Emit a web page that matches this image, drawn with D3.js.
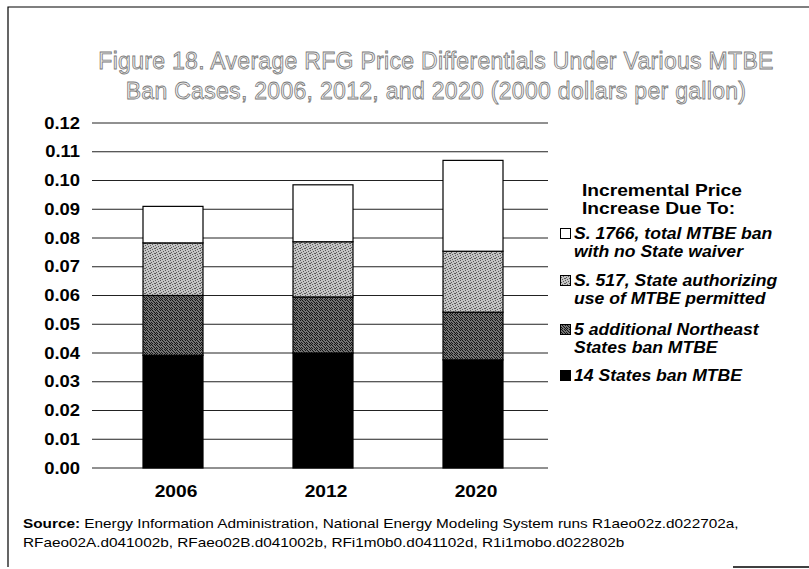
<!DOCTYPE html>
<html>
<head>
<meta charset="utf-8">
<script src="https://cdn.jsdelivr.net/npm/d3@7"></script>
<style>
  body { margin: 0; background: #fff; }
  svg { display: block; font-family: "Liberation Sans", Arial, sans-serif; }
</style>
</head>
<body>
<div id="chart"></div>
<script>
var years = ["2006", "2012", "2020"];
var seriesKeys = ["ban14", "northeast5", "s517", "s1766"];
var ban14 = [0.0392, 0.0400, 0.0376];
var northeast5 = [0.0208, 0.0195, 0.0166];
var s517 = [0.0183, 0.0192, 0.0212];
var s1766 = [0.0127, 0.0198, 0.0316];
var yTicks = [0, 0.01, 0.02, 0.03, 0.04, 0.05, 0.06, 0.07, 0.08, 0.09, 0.10, 0.11, 0.12];
var titleLines = [
  "Figure 18. Average RFG Price Differentials Under Various MTBE",
  "Ban Cases, 2006, 2012, and 2020 (2000 dollars per gallon)"
];
var legendTitle = ["Incremental Price", "Increase Due To:"];
var legendItems = [
  {key: "s1766", lines: ["S. 1766, total MTBE ban", "with no State waiver"]},
  {key: "s517", lines: ["S. 517, State authorizing", "use of MTBE permitted"]},
  {key: "northeast5", lines: ["5 additional Northeast", "States ban MTBE"]},
  {key: "ban14", lines: ["14 States ban MTBE"]}
];
var sourceLines = [
  "Energy Information Administration, National Energy Modeling System runs R1aeo02z.d022702a,",
  "RFaeo02A.d041002b, RFaeo02B.d041002b, RFi1m0b0.d041102d, R1i1mobo.d022802b"
];

var W = 809, H = 569;
var svg = d3.select("#chart").append("svg")
  .attr("width", W)
  .attr("height", H);

// the scanned original is a bit stretched sideways, so text gets a horizontal scale
function wideText(sel, x, y, sx) {
  return sel.append("text")
    .attr("transform", "translate(" + x + "," + y + ") scale(" + sx + ",1)");
}

// stipple patterns
var defs = svg.append("defs");
function stipple(id, bg, fg, dots) {
  var p = defs.append("pattern")
    .attr("id", id)
    .attr("patternUnits", "userSpaceOnUse")
    .attr("width", 5).attr("height", 5);
  p.append("rect").attr("width", 5).attr("height", 5).attr("fill", bg);
  dots.forEach(function(d) {
    p.append("rect").attr("x", d[0]).attr("y", d[1]).attr("width", 1).attr("height", 1).attr("fill", fg);
  });
}
stipple("light", "#c4c4c4", "#5a5a5a", [[0,0],[3,1],[1,2],[4,3],[2,4],[0,3]]);
stipple("dark", "#747474", "#141414", [[0,0],[2,0],[3,1],[1,2],[4,2],[0,3],[2,3],[4,4],[1,4]]);

var fills = {ban14: "#000", northeast5: "url(#dark)", s517: "url(#light)", s1766: "#fff"};

// frame
svg.append("path")
  .attr("d", "M8,567 L8,7 L809,7")
  .attr("fill", "none").attr("stroke", "#000").attr("stroke-width", 1.2);
svg.append("line")
  .attr("x1", 733).attr("x2", 809).attr("y1", 567).attr("y2", 567)
  .attr("stroke", "#000").attr("stroke-width", 1.5);

// title
svg.append("g").selectAll("text")
  .data(titleLines)
  .enter().append("text")
    .attr("x", 436)
    .attr("y", function(d, i) { return 69 + i * 30; })
    .attr("text-anchor", "middle")
    .attr("font-size", "23px")
    .attr("letter-spacing", "0.3px")
    .attr("fill", "#f0f0f0")
    .attr("stroke", "#7a7a7a")
    .attr("stroke-width", 0.8)
    .text(function(d) { return d; });

var x = d3.scaleBand()
  .domain(years)
  .range([98, 548])
  .paddingInner(0.6)
  .paddingOuter(0.3);

var y = d3.scaleLinear()
  .domain([0, 0.12])
  .range([468, 123]);

// gridlines
svg.append("g").selectAll("line")
  .data(yTicks)
  .enter().append("line")
    .attr("x1", 92).attr("x2", 548)
    .attr("y1", function(d) { return y(d); })
    .attr("y2", function(d) { return y(d); })
    .attr("stroke", "#222")
    .attr("stroke-width", 1);

// y axis labels
var yAxis = svg.append("g")
  .attr("transform", "translate(80,0)")
  .call(d3.axisLeft(y).tickValues(yTicks).tickFormat(d3.format(".2f")).tickSize(0).tickPadding(0));
yAxis.select(".domain").remove();
yAxis.selectAll("text")
  .attr("font-family", "'Liberation Sans', Arial, sans-serif")
  .attr("font-size", "16px")
  .attr("font-weight", "bold")
  .attr("fill", "#000")
  .attr("transform", "scale(1.15,1)");

// stacked bars
var rows = years.map(function(yr, i) {
  return {year: yr, ban14: ban14[i], northeast5: northeast5[i], s517: s517[i], s1766: s1766[i]};
});
var stack = d3.stack().keys(seriesKeys)(rows);

svg.append("g").selectAll("g")
  .data(stack)
  .enter().append("g")
    .attr("fill", function(d) { return fills[d.key]; })
  .selectAll("rect")
  .data(function(d) { return d; })
  .enter().append("rect")
    .attr("x", function(d) { return x(d.data.year); })
    .attr("y", function(d) { return y(d[1]); })
    .attr("width", x.bandwidth())
    .attr("height", function(d) { return y(d[0]) - y(d[1]); })
    .attr("stroke", "#000")
    .attr("stroke-width", 1.2);

// x axis labels
var xAxis = svg.append("g")
  .attr("transform", "translate(3,486)")
  .call(d3.axisBottom(x).tickSize(0).tickPadding(0));
xAxis.select(".domain").remove();
xAxis.selectAll("text")
  .attr("font-family", "'Liberation Sans', Arial, sans-serif")
  .attr("font-size", "16px")
  .attr("font-weight", "bold")
  .attr("fill", "#000")
  .attr("transform", "scale(1.2,1)");

// legend
var legend = svg.append("g");
legendTitle.forEach(function(t, i) {
  wideText(legend, 582, 196 + i * 18, 1.2)
    .attr("font-size", "16px")
    .attr("font-weight", "bold")
    .text(t);
});

var itemY = [239, 286, 335, 381];
legendItems.forEach(function(item, i) {
  legend.append("rect")
    .attr("x", 560.5).attr("y", itemY[i] - 10.5)
    .attr("width", 10).attr("height", 10)
    .attr("fill", fills[item.key])
    .attr("stroke", "#000")
    .attr("stroke-width", 1);
  item.lines.forEach(function(t, j) {
    wideText(legend, 574, itemY[i] + j * 18, 1.1)
      .attr("font-size", "16px")
      .attr("font-weight", "bold")
      .attr("font-style", "italic")
      .text(t);
  });
});

// source
var src = wideText(svg, 23, 528, 1.18).attr("font-size", "13px");
src.append("tspan").attr("font-weight", "bold").text("Source:");
src.append("tspan").text(" " + sourceLines[0]);
wideText(svg, 23, 547, 1.18).attr("font-size", "13px").text(sourceLines[1]);
</script>
</body>
</html>
